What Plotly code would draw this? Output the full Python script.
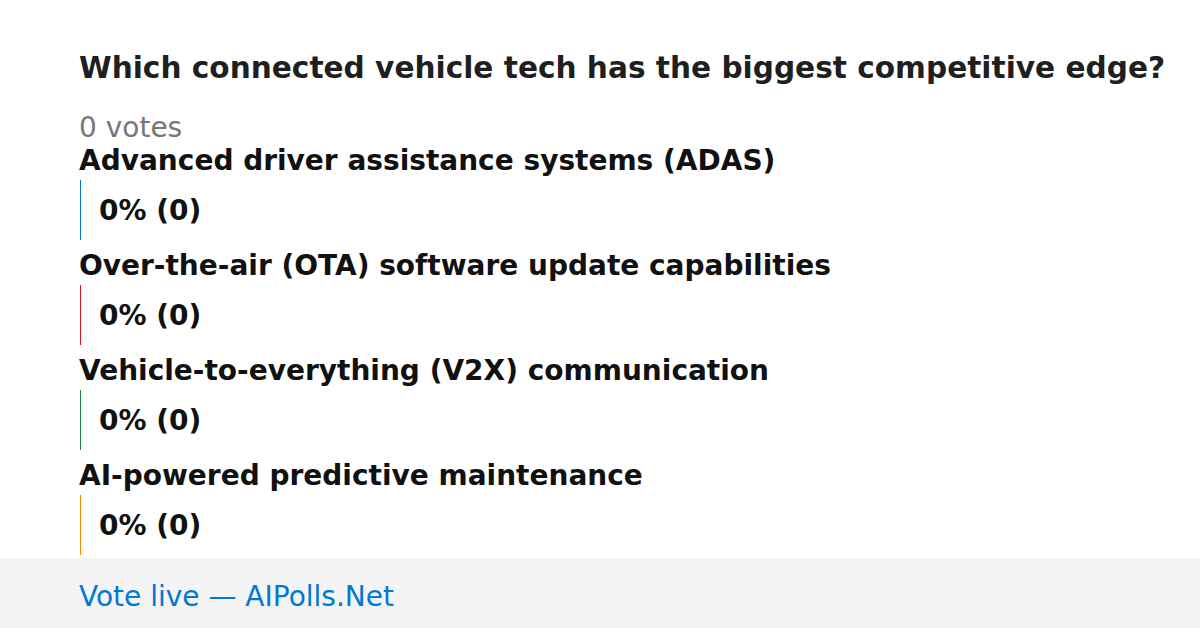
import plotly.graph_objects as go

title = "Which connected vehicle tech has the biggest competitive edge?"
total_votes = 0
options = [
    "Advanced driver assistance systems (ADAS)",
    "Over-the-air (OTA) software update capabilities",
    "Vehicle-to-everything (V2X) communication",
    "AI-powered predictive maintenance",
]
votes = [0, 0, 0, 0]
percents = [0, 0, 0, 0]
colors = ["#0078d4", "#e81123", "#10893e", "#ff8c00"]
footer = "Vote live — AIPolls.Net"

W, H = 1200, 628
FONT = "DejaVu Sans"
left = 80
bar_max = 1040
row0 = 160
row_step = 105

fig = go.Figure()

bar_centers = [row0 + 50 + i * row_step for i in range(len(options))]
fig.add_trace(go.Bar(
    orientation="h",
    y=bar_centers,
    x=[p / 100 * bar_max for p in percents],
    base=left,
    width=60,
    marker=dict(color=colors, line=dict(width=0)),
    hoverinfo="skip",
    showlegend=False,
))

shapes = []
annotations = []
# footer band
shapes.append(dict(type="rect", xref="x", yref="y", x0=0, x1=W, y0=558, y1=H,
                   fillcolor="#f4f4f4", line=dict(width=0), layer="below"))


def txt(x, y, text, size, color):
    annotations.append(dict(x=x, y=y, text=text, xanchor="left", yanchor="middle",
                            showarrow=False, borderpad=0, borderwidth=0,
                            font=dict(family=FONT, size=size, color=color)))


txt(left - 1, 68, f"<b>{title}</b>", 29.6, "#1f1f1f")
txt(left - 1, 127, f"{total_votes} votes", 28, "#777777")

for i, (opt, v, p, c) in enumerate(zip(options, votes, percents, colors)):
    yl = row0 + i * row_step
    txt(left - 1, yl, f"<b>{opt}</b>", 28, "#111111")
    yb = bar_centers[i]
    shapes.append(dict(type="line", xref="x", yref="y", x0=left + 0.5, x1=left + 0.5,
                       y0=yb - 30, y1=yb + 30, line=dict(color=c, width=1)))
    txt(left + 19, yb, f"<b>{p}% ({v})</b>", 28, "#111111")

txt(left - 1, 596, footer, 28, "#0078d4")

fig.update_layout(
    width=W, height=H,
    margin=dict(l=0, r=0, t=0, b=0),
    paper_bgcolor="white", plot_bgcolor="white",
    xaxis=dict(range=[0, W], visible=False, fixedrange=True),
    yaxis=dict(range=[H, 0], visible=False, fixedrange=True),
    shapes=shapes, annotations=annotations,
    bargap=0,
)

fig.write_html("out.html", config={"displayModeBar": False},
               post_script="document.body.style.margin='0';document.body.style.overflow='hidden';")
